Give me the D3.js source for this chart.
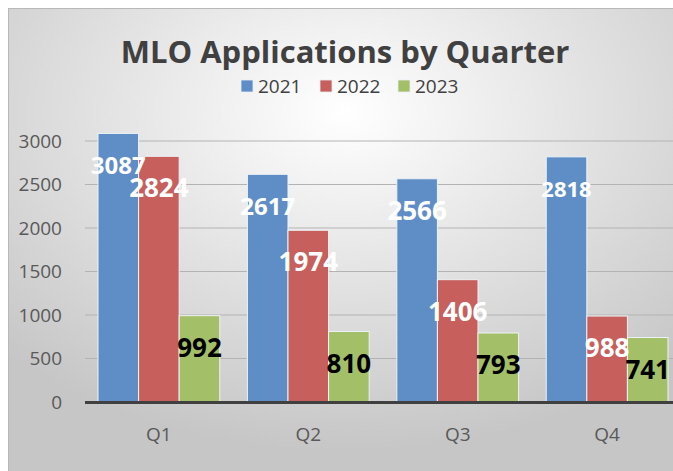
<!DOCTYPE html>
<html>
<head>
<meta charset="utf-8">
<script src="https://cdn.jsdelivr.net/npm/d3@7"></script>
<style>
  body { margin: 0; background: #fff; }
  svg { display: block; font-family: "Open Sans", sans-serif; }
</style>
</head>
<body>
<svg id="chart"></svg>
<script>
var quarters = ["Q1", "Q2", "Q3", "Q4"];
var years = ["2021", "2022", "2023"];
var values2021 = [3087, 2617, 2566, 2818];
var values2022 = [2824, 1974, 1406, 988];
var values2023 = [992, 810, 793, 741];
var yTicks = [0, 500, 1000, 1500, 2000, 2500, 3000];

var colors = ["#5f8ec6", "#c75f5d", "#a3bf67"];
var labelColors = ["#fff", "#fff", "#000"];
// a few labels were shrunk in the original
var labelSize = [[24, 26, 26], [24, 26, 26], [26, 26, 26], [22, 26, 26]];

var width = 673, height = 471;
var svg = d3.select("#chart").attr("width", width).attr("height", height);

var defs = svg.append("defs");
var grad = defs.append("radialGradient")
    .attr("id", "bg")
    .attr("cx", "50%").attr("cy", "22%").attr("r", "72%");
grad.append("stop").attr("offset", "0%").attr("stop-color", "#ffffff");
grad.append("stop").attr("offset", "100%").attr("stop-color", "#c6c6c6");

svg.append("rect")
    .attr("x", 8.5).attr("y", 8.5)
    .attr("width", width).attr("height", height)
    .attr("fill", "url(#bg)")
    .attr("stroke", "#b8b8b8");

var series = [values2021, values2022, values2023];

var x0 = d3.scaleBand().domain(quarters).range([85, 681]).paddingInner(0.185).paddingOuter(0.087);
var x1 = d3.scaleBand().domain(years).range([0, x0.bandwidth()]);
var y = d3.scaleLinear().domain([0, 3500]).range([402, 97.5]);

// gridlines
svg.append("g").selectAll("line")
    .data(yTicks.filter(function(d) { return d > 0; }))
    .join("line")
    .attr("x1", 85).attr("x2", width)
    .attr("y1", function(d) { return y(d); })
    .attr("y2", function(d) { return y(d); })
    .attr("stroke", "#b3b3b3").attr("stroke-width", 1.2);

// y axis labels
var yAxis = d3.axisLeft(y).tickValues(yTicks).tickFormat(d3.format("d")).tickSize(0).tickPadding(0);
var gy = svg.append("g").attr("transform", "translate(62,0)").call(yAxis);
gy.select(".domain").remove();
gy.selectAll("text")
    .attr("fill", "#595959")
    .style("font-size", "19px")
    .style("font-family", "Open Sans");

// bars
var groups = svg.append("g").selectAll("g")
    .data(quarters)
    .join("g")
    .attr("transform", function(d) { return "translate(" + x0(d) + ",0)"; });

function rows(q, qi) {
    return years.map(function(yr, si) { return { year: yr, si: si, qi: qi, v: series[si][qi] }; });
}

groups.selectAll("rect")
    .data(rows)
    .join("rect")
    .attr("x", function(d) { return x1(d.year); })
    .attr("width", x1.bandwidth())
    .attr("y", function(d) { return y(d.v); })
    .attr("height", function(d) { return y(0) - y(d.v); })
    .attr("fill", function(d) { return colors[d.si]; })
    .attr("stroke", "#eef2f6").attr("stroke-width", 1);

// zero axis
var xAxis = d3.axisBottom(x0).tickSize(0).tickPadding(26);
var gx = svg.append("g").attr("transform", "translate(0," + y(0) + ")").call(xAxis);
gx.select(".domain").remove();
gx.selectAll("text")
    .attr("fill", "#595959")
    .style("font-size", "19px")
    .style("font-family", "Open Sans");
svg.append("line")
    .attr("x1", 85).attr("x2", width)
    .attr("y1", y(0) + 0.5).attr("y2", y(0) + 0.5)
    .attr("stroke", "#404040").attr("stroke-width", 3);

// data labels
groups.selectAll("text.lbl")
    .data(rows)
    .join("text")
    .attr("class", "lbl")
    .attr("x", function(d) { return x1(d.year) + x1.bandwidth() / 2; })
    .attr("y", function(d) { return y(d.v) + 31; })
    .attr("text-anchor", "middle")
    .attr("dominant-baseline", "central")
    .attr("fill", function(d) { return labelColors[d.si]; })
    .style("font-weight", "bold")
    .style("font-size", function(d) { return labelSize[d.qi][d.si] + "px"; })
    .text(function(d) { return d.v; });

// title
svg.append("text")
    .attr("x", 345).attr("y", 63)
    .attr("text-anchor", "middle")
    .attr("fill", "#404040")
    .style("font-weight", "bold")
    .style("font-size", "31px")
    .text("MLO Applications by Quarter");

// legend
var legendX = [241, 320, 398];
var lg = svg.append("g").selectAll("g")
    .data(years)
    .join("g")
    .attr("transform", function(d, i) { return "translate(" + legendX[i] + ",80)"; });
lg.append("rect").attr("width", 12).attr("height", 12)
    .attr("fill", function(d, i) { return colors[i]; })
    .attr("stroke", "#e8eef4").attr("stroke-width", 0.8);
lg.append("text")
    .attr("x", 17).attr("y", 13)
    .attr("fill", "#404040")
    .style("font-size", "19px")
    .text(function(d) { return d; });
</script>
</body>
</html>
